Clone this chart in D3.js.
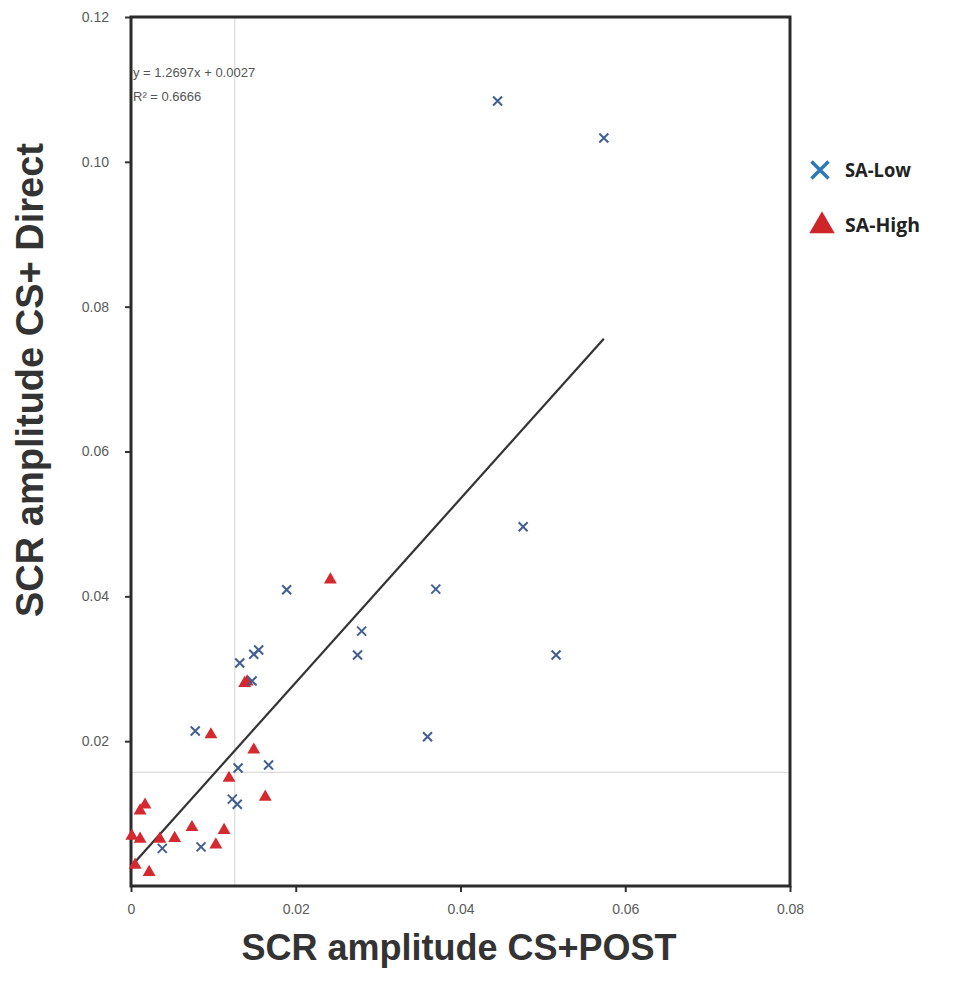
<!DOCTYPE html>
<html>
<head>
<meta charset="utf-8">
<script src="https://cdn.jsdelivr.net/npm/d3@7"></script>
<style>
  html, body { margin: 0; padding: 0; background: #fff; }
  svg { display: block; }
</style>
</head>
<body>
<svg id="chart" width="968" height="981"></svg>
<script>
// SCR amplitude: CS+POST (x) vs CS+ Direct (y)
const saLowX = [0.0445, 0.0574, 0.0476, 0.0189, 0.0370, 0.0280, 0.0275, 0.0516, 0.0360, 0.0155,
                0.0149, 0.0132, 0.0147, 0.0078, 0.0167, 0.0130, 0.0123, 0.0129, 0.0085, 0.0038];
const saLowY = [0.1084, 0.1033, 0.0496, 0.0409, 0.0410, 0.0352, 0.0319, 0.0319, 0.0206, 0.0326,
                0.0320, 0.0308, 0.0283, 0.0214, 0.0167, 0.0163, 0.0120, 0.0113, 0.0054, 0.0052];
const saHighX = [0.0242, 0.0141, 0.0138, 0.0097, 0.0149, 0.0119, 0.0163, 0.0017, 0.0011, 0.0074,
                 0.0113, 0.0001, 0.0011, 0.0035, 0.0053, 0.0103, 0.0005, 0.0022];
const saHighY = [0.0423, 0.0282, 0.0280, 0.0209, 0.0188, 0.0149, 0.0123, 0.0112, 0.0104, 0.0081,
                 0.0077, 0.0069, 0.0065, 0.0065, 0.0066, 0.0057, 0.0029, 0.0019];
const xTicks = [0, 0.02, 0.04, 0.06, 0.08];
const yTicks = [0.02, 0.04, 0.06, 0.08, 0.10, 0.12];
const slope = 1.2697, intercept = 0.0027, rSquared = 0.6666;
const meanX = 0.0126, meanY = 0.0157;

const svg = d3.select("#chart");
const x = d3.scaleLinear().domain([0, 0.08]).range([131, 790]);
const y = d3.scaleLinear().domain([0, 0.12]).range([886, 17]);

// Faint mean lines
svg.append("line").attr("x1", x(meanX)).attr("x2", x(meanX)).attr("y1", y(0.12)).attr("y2", y(0))
  .attr("stroke", "#dcdcdc").attr("stroke-width", 1.2);
svg.append("line").attr("x1", x(0)).attr("x2", x(0.08)).attr("y1", y(meanY)).attr("y2", y(meanY))
  .attr("stroke", "#dcdcdc").attr("stroke-width", 1.2);

// Axes
const xAxis = d3.axisBottom(x).tickValues(xTicks).tickSize(6).tickPadding(12)
  .tickFormat(d => d === 0 ? "0" : d3.format(".2f")(d));
const yAxis = d3.axisLeft(y).tickValues(yTicks).tickSize(6).tickPadding(16)
  .tickFormat(d3.format(".2f"));

const gx = svg.append("g").attr("transform", `translate(0,${y(0)})`).call(xAxis);
const gy = svg.append("g").attr("transform", `translate(${x(0)},0)`).call(yAxis);
[gx, gy].forEach(g => {
  g.select(".domain").remove();
  g.selectAll(".tick line").attr("stroke", "#333").attr("stroke-width", 2);
  g.selectAll(".tick text").attr("fill", "#5a5a5a").style("font-family", "Liberation Sans, Arial, sans-serif").style("font-size", "14px");
});

// Frame
svg.append("rect").attr("x", x(0)).attr("y", y(0.12))
  .attr("width", x(0.08) - x(0)).attr("height", y(0) - y(0.12))
  .attr("fill", "none").attr("stroke", "#2b2b2b").attr("stroke-width", 3);

// Trend line
const lineX0 = 0, lineX1 = d3.max(saLowX.concat(saHighX));
svg.append("line")
  .attr("x1", x(lineX0)).attr("y1", y(slope * lineX0 + intercept))
  .attr("x2", x(lineX1)).attr("y2", y(slope * lineX1 + intercept))
  .attr("stroke", "#333").attr("stroke-width", 2.2);

// Equation
const eq = svg.append("text").attr("x", x(0) + 2).attr("y", 77)
  .attr("fill", "#555").style("font-family", "Liberation Sans, Arial, sans-serif").style("font-size", "13px");
eq.append("tspan").attr("x", x(0) + 2).text(`y = ${slope}x + ${intercept}`);
eq.append("tspan").attr("x", x(0) + 2).attr("dy", 24).text(`R² = ${rSquared}`);

// SA-High triangles
const tri = d3.symbol().type(d3.symbolTriangle).size(72);
svg.append("g").selectAll("path").data(d3.range(saHighX.length)).join("path")
  .attr("d", tri)
  .attr("transform", i => `translate(${x(saHighX[i])},${y(saHighY[i])})`)
  .attr("fill", "#d42a2f");

// SA-Low crosses
const cross = (s) => `M${-s},${-s}L${s},${s}M${-s},${s}L${s},${-s}`;
svg.append("g").selectAll("path").data(d3.range(saLowX.length)).join("path")
  .attr("d", cross(4.5))
  .attr("transform", i => `translate(${x(saLowX[i])},${y(saLowY[i])})`)
  .attr("fill", "none").attr("stroke", "#3f5f93").attr("stroke-width", 2);

// Legend
const legend = svg.append("g");
legend.append("path").attr("d", cross(8.5)).attr("transform", "translate(820,170)")
  .attr("fill", "none").attr("stroke", "#2d78ba").attr("stroke-width", 3.5);
legend.append("path").attr("d", d3.symbol().type(d3.symbolTriangle).size(280)())
  .attr("transform", "translate(822,226)").attr("fill", "#d0242b");
legend.selectAll("text").data(["SA-Low", "SA-High"]).join("text")
  .attr("x", 845).attr("y", (d, i) => 177 + i * 55)
  .attr("fill", "#222")
  .style("font-family", "Liberation Sans Narrow, Open Sans, sans-serif")
  .style("font-weight", "bold").style("font-size", "19px")
  .attr("textLength", (d, i) => i === 0 ? 66 : 75).attr("lengthAdjust", "spacingAndGlyphs")
  .text(d => d);

// Axis titles
svg.append("text").attr("x", 459).attr("y", 960).attr("text-anchor", "middle")
  .attr("fill", "#333").style("font-family", "Liberation Sans, Arial, sans-serif")
  .style("font-weight", "bold").style("font-size", "36px")
  .text("SCR amplitude CS+POST");
svg.append("text").attr("transform", "translate(43,380) rotate(-90)").attr("text-anchor", "middle")
  .attr("fill", "#333").style("font-family", "Liberation Sans, Arial, sans-serif")
  .style("font-weight", "bold").style("font-size", "38px")
  .text("SCR amplitude CS+ Direct");
</script>
</body>
</html>
